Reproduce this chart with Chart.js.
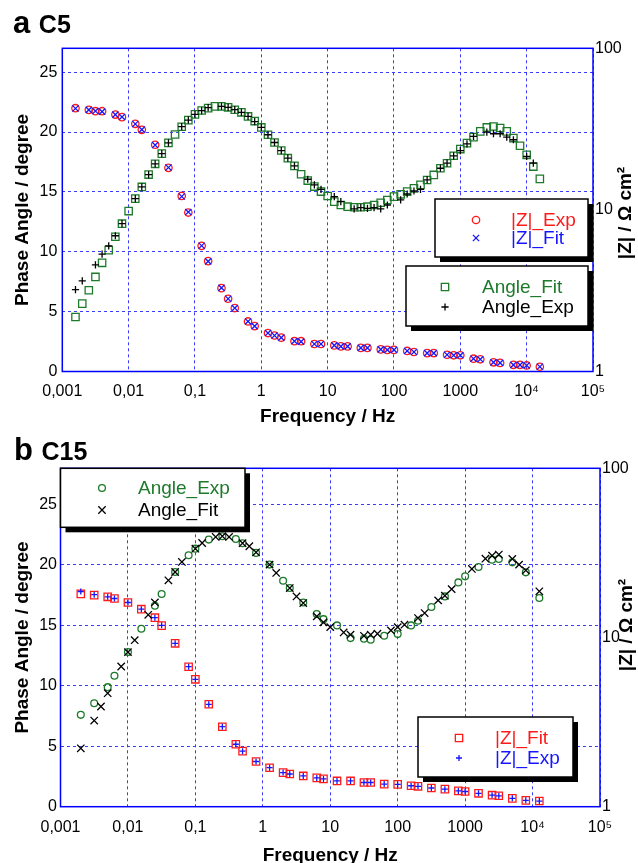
<!DOCTYPE html>
<html><head><meta charset="utf-8">
<script src="https://cdn.jsdelivr.net/npm/chart.js@4.4.1/dist/chart.umd.min.js"></script>
<style>
html,body{margin:0;padding:0;background:#fff;}
#wrap{position:relative;width:638px;height:863px;overflow:hidden;font-family:'Liberation Sans',Arial,Helvetica,sans-serif;}
canvas{position:absolute;left:0;}
.ttl{position:absolute;font-weight:bold;font-size:31px;line-height:31px;color:#000;white-space:nowrap;}
.ttl span{font-size:25px;}
</style></head>
<body><div id="wrap">
<canvas id="ca" width="638" height="430" style="top:0px"></canvas>
<canvas id="cb" width="638" height="433" style="top:430px"></canvas>
<div class="ttl" style="left:13px;top:6.5px">a <span>C5</span></div>
<div class="ttl" style="left:14px;top:433.5px">b <span>C15</span></div>
</div>
<script>
// ---------------- axis ticks ----------------
const X_TICKS = [0.001, 0.01, 0.1, 1, 10, 100, 1000, 10000, 100000];
const X_TICK_LABELS = ['0,001', '0,01', '0,1', '1', '10', '100', '1000', '10\u2074', '10\u2075'];
const Y2_TICKS = [1, 10, 100];

// ---------------- Panel a : C5 ----------------
const aAngleFitF = [0.00158,0.002,0.00251,0.00316,0.00398,0.00501,0.00631,0.00794,0.01,
  0.0126,0.0158,0.02,0.0251,0.0316,0.0398,0.0501,0.0631,0.0794,0.1,
  0.126,0.158,0.2,0.251,0.316,0.398,0.501,0.631,0.794,1,
  1.26,1.58,2,2.51,3.16,3.98,5.01,6.31,7.94,10,
  12.6,15.8,20,25.1,31.6,39.8,50.1,63.1,79.4,100,
  126,158,200,251,316,398,501,631,794,1000,
  1260,1580,2000,2510,3160,3980,5010,6310,7940,10000,12600,15800];
const aAngleFit = [4.55,5.67,6.79,7.9,9.08,10.14,11.26,12.35,13.4,
  14.44,15.42,16.45,17.35,18.2,19.1,19.8,20.45,21.0,21.48,
  21.8,22.0,22.15,22.15,22.07,21.87,21.65,21.31,20.92,20.39,
  19.78,19.13,18.46,17.82,17.18,16.48,15.95,15.45,15.03,14.66,
  14.19,13.91,13.77,13.72,13.72,13.77,13.91,14.1,14.33,14.61,
  14.8,15.03,15.3,15.59,16.0,16.42,16.98,17.4,18.02,18.58,
  19.08,19.58,20.06,20.39,20.47,20.34,20.06,19.5,18.86,18.1,17.12,16.09];

const aAngleExpF = [0.00158,0.002,0.00316,0.00398,0.00501,0.00631,0.00794,
  0.0126,0.0158,0.02,0.0251,0.0316,0.0398,0.0631,0.0794,0.1,
  0.126,0.158,0.251,0.316,0.398,0.501,0.631,0.794,1,
  1.26,1.58,2,2.51,3.16,5.01,6.31,7.94,
  12.6,15.8,25.1,31.6,39.8,50.1,63.1,79.4,
  126,158,200,251,316,501,631,794,1000,
  1260,1580,2510,3160,3980,5010,6310,10000,12600];
const aAngleExp = [6.84,7.57,8.91,9.8,10.5,11.34,12.35,
  14.44,15.42,16.45,17.35,18.2,19.1,20.45,21.0,21.48,
  21.8,22.05,22.15,22.07,21.87,21.65,21.31,20.87,20.4,
  19.78,19.13,18.46,17.82,17.18,16.06,15.59,15.22,
  14.61,14.19,13.58,13.69,13.63,13.69,13.58,13.91,
  14.33,14.83,15.08,15.22,16.0,16.98,17.4,18.02,18.46,
  19.02,19.64,20.0,19.86,19.86,19.58,19.36,17.96,17.4];

const aZF = [0.00158,0.00251,0.00316,0.00398,0.00631,0.00794,0.0126,0.0158,0.0251,0.0398,
  0.0631,0.0794,0.126,0.158,0.251,0.316,0.398,0.631,0.794,
  1.26,1.58,2,3.16,3.98,6.31,7.94,12.6,15.8,20,31.6,39.8,63.1,79.4,100,
  158,200,316,398,631,794,1000,1580,2000,3160,3980,6310,7940,10000,15800];
const aZExp = [42.6,41.6,40.8,40.8,38.9,37.5,34.1,31.3,25.3,18.2,
  12.2,9.63,5.99,4.82,3.28,2.82,2.47,2.04,1.91,
  1.73,1.67,1.62,1.54,1.54,1.48,1.48,1.45,1.43,1.43,1.40,1.40,1.37,1.36,1.36,
  1.34,1.32,1.30,1.30,1.27,1.26,1.26,1.20,1.19,1.14,1.13,1.10,1.10,1.09,1.07];
const aZFit = [42.4,41.6,40.9,40.6,38.9,37.6,34.0,31.4,25.2,18.3,
  12.1,9.7,6.0,4.8,3.29,2.82,2.47,2.04,1.91,
  1.73,1.67,1.62,1.54,1.53,1.48,1.48,1.45,1.43,1.43,1.40,1.40,1.37,1.36,1.36,
  1.34,1.32,1.30,1.30,1.27,1.26,1.26,1.20,1.19,1.14,1.13,1.10,1.10,1.09,1.07];

// ---------------- Panel b : C15 ----------------
const bAngleExpF = [0.002,0.00316,0.00501,0.00631,0.01,0.0158,0.0251,0.0316,0.0501,0.0794,0.1,
  0.158,0.251,0.398,0.501,0.794,1.26,2,2.51,3.98,6.31,7.94,12.6,20,31.6,39.8,63.1,100,
  158,200,316,501,794,1000,1580,2510,3160,5010,7940,12600];
const bAngleExp = [7.6,8.56,9.89,10.83,12.79,14.72,16.63,17.6,19.42,20.8,21.35,
  22.1,22.38,22.15,21.8,21.0,20.03,18.7,18.09,16.9,15.94,15.52,15.0,13.95,13.9,13.81,14.14,14.28,
  15.0,15.39,16.52,17.4,18.56,19.06,19.83,20.44,20.5,20.22,19.39,17.27];

const bAngleFitF = [0.002,0.00316,0.00398,0.00501,0.00794,0.01,0.0126,0.02,0.0251,0.0398,0.0501,0.0631,
  0.1,0.126,0.2,0.251,0.316,0.501,0.631,0.794,1.26,1.58,2.51,3.16,3.98,6.31,7.94,10,
  15.8,20,31.6,39.8,50.1,79.4,100,126,200,251,398,501,631,1260,2000,2510,3160,5010,6310,7940,12600];
const bAngleFit = [4.83,7.13,8.29,9.39,11.6,12.79,13.78,15.88,16.9,18.73,19.42,20.25,
  21.35,21.82,22.32,22.38,22.32,21.8,21.55,21.05,20.03,19.34,18.09,17.4,16.85,15.75,15.25,14.86,
  14.42,14.23,14.14,14.23,14.31,14.59,14.86,15.06,15.61,16.02,17.07,17.46,18.0,19.67,20.52,20.77,20.86,20.5,20.03,19.56,17.82];

const bZF = [0.002,0.00316,0.00501,0.00631,0.01,0.0158,0.0251,0.0316,0.0501,0.0794,0.1,
  0.158,0.251,0.398,0.501,0.794,1.26,2,2.51,3.98,6.31,7.94,12.6,20,31.6,39.8,63.1,100,
  158,200,316,501,794,1000,1580,2510,3160,5010,7940,12600];
const bZFit = [18.1,17.8,17.4,17.0,16.1,14.7,13.1,11.75,9.24,6.72,5.66,
  4.03,2.97,2.34,2.13,1.85,1.70,1.59,1.56,1.52,1.48,1.46,1.42,1.42,1.39,1.39,1.36,1.355,
  1.33,1.32,1.29,1.27,1.24,1.23,1.20,1.17,1.16,1.12,1.09,1.08];
const bZExp = [18.7,17.9,17.4,17.0,16.1,14.7,13.1,11.8,9.24,6.72,5.66,
  4.03,2.97,2.34,2.13,1.85,1.70,1.59,1.56,1.52,1.48,1.46,1.42,1.42,1.39,1.39,1.36,1.355,
  1.33,1.32,1.29,1.27,1.24,1.23,1.20,1.17,1.16,1.12,1.09,1.08];

// ---------------- styling ----------------
const FONT = "'Liberation Sans', Arial, Helvetica, 'DejaVu Sans', sans-serif";
const GREEN = '#1d7a2a', RED = '#ff1a1a', BLUE = '#1515ff', BLACK = '#000000';
const GRID = '#3b3bff', FRAME = '#0000ff';

function pts(f, v) { return f.map((x, i) => ({ x: x, y: v[i] })); }

function ds(label, f, v, axis, style, r, color, order) {
  return { label, data: pts(f, v), yAxisID: axis, pointStyle: style, pointRadius: r,
    pointBorderColor: color, borderColor: color, backgroundColor: 'rgba(0,0,0,0)',
    pointBackgroundColor: 'rgba(0,0,0,0)', pointBorderWidth: 1.3, showLine: false, order };
}

function drawMarker(ctx, style, x, y, r, color) {
  ctx.save();
  ctx.strokeStyle = color; ctx.lineWidth = 1.3;
  ctx.beginPath();
  if (style === 'circle') { ctx.arc(x, y, r, 0, Math.PI * 2); }
  else if (style === 'rect') { const s = r * Math.SQRT1_2; ctx.rect(x - s, y - s, 2 * s, 2 * s); }
  else if (style === 'cross') { ctx.moveTo(x - r, y); ctx.lineTo(x + r, y); ctx.moveTo(x, y - r); ctx.lineTo(x, y + r); }
  else if (style === 'crossRot') { const s = r * Math.SQRT1_2; ctx.moveTo(x - s, y - s); ctx.lineTo(x + s, y + s); ctx.moveTo(x - s, y + s); ctx.lineTo(x + s, y - s); }
  ctx.stroke();
  ctx.restore();
}

function makePanel(id, p) {
  const extras = {
    id: 'extras_' + id,
    beforeDatasetsDraw(chart) {
      const { ctx, chartArea: a } = chart;
      ctx.save();
      ctx.strokeStyle = FRAME; ctx.lineWidth = 1.5;
      ctx.strokeRect(a.left, a.top, a.right - a.left, a.bottom - a.top);
      ctx.restore();
    },
    afterDatasetsDraw(chart) {
      const ctx = chart.ctx;
      p.legends.forEach(b => {
        ctx.save();
        ctx.fillStyle = '#000';
        ctx.fillRect(b.x + 5, b.y + 5, b.w, b.h);
        ctx.fillStyle = '#fff';
        ctx.fillRect(b.x, b.y, b.w, b.h);
        ctx.strokeStyle = '#000'; ctx.lineWidth = 1.5;
        ctx.strokeRect(b.x, b.y, b.w, b.h);
        b.rows.forEach(row => {
          const d = chart.data.datasets.find(q => q.label === row.label);
          drawMarker(ctx, d.pointStyle, b.markerX, row.y, d.pointRadius, d.pointBorderColor);
          ctx.fillStyle = d.pointBorderColor;
          ctx.font = '19px ' + FONT;
          ctx.textAlign = 'left'; ctx.textBaseline = 'middle';
          ctx.fillText(d.label, b.textX, row.y + 1);
        });
        ctx.restore();
      });
      // right axis title
      ctx.save();
      ctx.translate(p.rightTitle.x, p.rightTitle.y);
      ctx.rotate(-Math.PI / 2);
      ctx.fillStyle = '#000';
      ctx.font = 'bold 19px ' + FONT;
      ctx.textAlign = 'center'; ctx.textBaseline = 'middle';
      ctx.fillText('|Z| / \u03A9 cm\u00B2', 0, 0);
      ctx.restore();
    }
  };

  return new Chart(document.getElementById(id), {
    type: 'scatter',
    data: { datasets: p.datasets },
    options: {
      responsive: false, animation: false, devicePixelRatio: 1, events: [],
      layout: { padding: { top: p.padTop, left: 0, right: 0, bottom: 0 } },
      plugins: { legend: { display: false }, tooltip: { enabled: false }, title: { display: false } },
      scales: {
        x: {
          type: 'logarithmic', position: 'bottom', min: 0.001, max: 100000,
          afterBuildTicks: s => { s.ticks = X_TICKS.map(v => ({ value: v })); },
          afterFit: s => { s.height = p.xH; },
          ticks: { autoSkip: false, maxRotation: 0, color: '#000', padding: p.xTickPad,
            font: { family: FONT, size: 16 },
            callback: v => X_TICK_LABELS[X_TICKS.indexOf(v)] },
          grid: { color: GRID, lineWidth: 1, drawTicks: false },
          border: { display: false, dash: [3, 3] },
          title: { display: true, text: 'Frequency / Hz', color: '#000',
            font: { family: FONT, size: 19, weight: 'bold', lineHeight: 1 },
            padding: { top: 0, bottom: p.xTitlePad } }
        },
        y: {
          type: 'linear', position: 'left', min: 0, max: p.yMax,
          afterFit: s => { s.width = p.yW; },
          ticks: { stepSize: 5, includeBounds: false, color: '#000', padding: p.yTickPad,
            font: { family: FONT, size: 16 } },
          grid: { color: GRID, lineWidth: 1, drawTicks: false },
          border: { display: false, dash: [3, 3] },
          title: { display: true, text: 'Phase Angle / degree', color: '#000',
            font: { family: FONT, size: 19, weight: 'bold', lineHeight: 1 },
            padding: { top: p.yTitlePad, bottom: 0 } }
        },
        y2: {
          type: 'logarithmic', position: 'right', min: 1, max: 100,
          afterBuildTicks: s => { s.ticks = Y2_TICKS.map(v => ({ value: v })); },
          afterFit: s => { s.width = p.y2W; },
          ticks: { color: '#000', padding: 2, font: { family: FONT, size: 16 },
            callback: v => String(v) },
          grid: { display: false, drawOnChartArea: false, drawTicks: false },
          border: { display: false }
        }
      }
    },
    plugins: [extras]
  });
}

makePanel('ca', {
  padTop: 48.3, yW: 62.3, y2W: 45, xH: 58.5, yMax: 27,
  xTickPad: 10, xTitlePad: 3.5, yTickPad: 5, yTitlePad: 13.5,
  rightTitle: { x: 626, y: 213 },
  datasets: [
    ds('|Z|_Fit', aZF, aZFit, 'y2', 'crossRot', 4.4, BLUE, 0),
    ds('|Z|_Exp', aZF, aZExp, 'y2', 'circle', 3.7, RED, 1),
    ds('Angle_Exp', aAngleExpF, aAngleExp, 'y', 'cross', 3.6, BLACK, 2),
    ds('Angle_Fit', aAngleFitF, aAngleFit, 'y', 'rect', 5.2, GREEN, 3)
  ],
  legends: [
    { x: 435, y: 199, w: 153, h: 58, markerX: 476, textX: 511,
      rows: [{ label: '|Z|_Exp', y: 220 }, { label: '|Z|_Fit', y: 238 }] },
    { x: 406, y: 266, w: 182, h: 60, markerX: 445, textX: 482,
      rows: [{ label: 'Angle_Fit', y: 287 }, { label: 'Angle_Exp', y: 307 }] }
  ]
});

makePanel('cb', {
  padTop: 38.3, yW: 60.5, y2W: 38, xH: 56.3, yMax: 28,
  xTickPad: 11.4, xTitlePad: -2, yTickPad: 3.5, yTitlePad: 13.5,
  rightTitle: { x: 627, y: 195 },
  datasets: [
    ds('Angle_Fit', bAngleFitF, bAngleFit, 'y', 'crossRot', 5.2, BLACK, 0),
    ds('Angle_Exp', bAngleExpF, bAngleExp, 'y', 'circle', 3.4, GREEN, 1),
    ds('|Z|_Exp', bZF, bZExp, 'y2', 'cross', 3.0, BLUE, 2),
    ds('|Z|_Fit', bZF, bZFit, 'y2', 'rect', 5.2, RED, 3)
  ],
  legends: [
    { x: 60.5, y: 38.3, w: 184.5, h: 59, markerX: 102, textX: 138,
      rows: [{ label: 'Angle_Exp', y: 58 }, { label: 'Angle_Fit', y: 80 }] },
    { x: 418, y: 287, w: 155, h: 60, markerX: 459, textX: 495,
      rows: [{ label: '|Z|_Fit', y: 308 }, { label: '|Z|_Exp', y: 328 }] }
  ]
});
</script>
</body></html>
